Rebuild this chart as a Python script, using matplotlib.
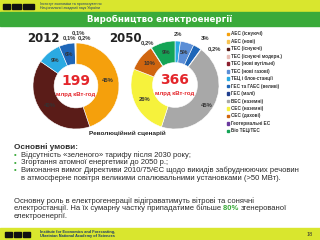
import matplotlib
matplotlib.use('Agg')
import numpy as np
import matplotlib.pyplot as plt
from matplotlib.patches import Rectangle

W, H = 320, 240
plt.rcParams['font.family'] = ['Liberation Sans', 'DejaVu Sans']

# legend categories and colours
names = ['АЕС (існуючі)', 'АЕС (нові)', 'ТЕС (існуючі)', 'ТЕС (існуючі модерн.)',
         'ТЕС (нові вугільні)', 'ТЕС (нові газові)', 'ТЕЦ і блок-станції',
         'ГЕС та ГАЕС (великі)', 'ГЕС (малі)', 'ВЕС (наземні)', 'СЕС (наземні)',
         'СЕС (дахові)', 'Геотермальні ЕС', 'Біо ТЕЦ/ТЕС']
cols = ['#F5A00C', '#F7C453', '#5A1C18', '#E8BDB6', '#8C2030', '#5B8ED6',
        '#2AAAE2', '#1E66B8', '#203F8F', '#A8A8A8', '#F6F23C', '#D0650F',
        '#6A3A9E', '#14A456']

# 2012 shares, clockwise from top
cat_2012 = ['АЕС (існуючі)', 'ТЕС (існуючі)', 'ТЕЦ і блок-станції',
            'ГЕС та ГАЕС (великі)', 'ГЕС (малі)', 'ВЕС (наземні)', 'СЕС (наземні)']
val_2012 = [45, 40, 9, 6, 0.1, 0.1, 0.2]
lab_2012 = ['45%', '40%', '9%', '6%', '0,1%', '0,1%', '0,2%']

# 2050 shares, clockwise from top
cat_2050 = ['ТЕЦ і блок-станції', 'ТЕС (нові газові)', 'ГЕС та ГАЕС (великі)',
            'ГЕС (малі)', 'ВЕС (наземні)', 'СЕС (наземні)',
            'СЕС (дахові)', 'Геотермальні ЕС', 'Біо ТЕЦ/ТЕС']
val_2050 = [2, 5, 3, 0.2, 45, 26, 10, 0.2, 9]
lab_2050 = ['2%', '5%', '3%', '0,2%', '45%', '26%', '10%', '0,2%', '9%']

totals = ['199', '366']
years = ['2012', '2050']

bullets = ['Відсутність «зеленого» тарифу після 2030 року;',
           'Згортання атомної енергетики до 2050 р.;',
           'Виконання вимог Директиви 2010/75/ЄС щодо викидів забруднюючих речовин']
bullet_cont = 'в атмосферне повітря великими спалювальними установками (>50 МВт).'


def fx(x):
    return x / W


def fy(y):
    return 1 - y / H


fig = plt.figure(figsize=(3.2, 2.4), dpi=100)
fig.patch.set_facecolor('white')

yellow = '#D9E62E'
green = '#3AAA3A'
fig.patches.append(Rectangle((0, fy(12.5)), 1, 12.5 / H, transform=fig.transFigure,
                             color=yellow, zorder=0))
fig.patches.append(Rectangle((0, fy(25.5)), 1, 13 / H, transform=fig.transFigure,
                             color=green, zorder=0))
fig.patches.append(Rectangle((0, 0), 1, 12 / H, transform=fig.transFigure,
                             color=yellow, zorder=0))

# logos
for x0, w in [(3, 7), (12, 9), (23, 11)]:
    fig.patches.append(Rectangle((fx(x0), fy(9)), w / W, 5 / H, transform=fig.transFigure,
                                 color='#111111', zorder=1))
fig.text(fx(40), fy(4.5), 'Інститут економіки та прогнозування', fontsize=2.6,
         color='#1A3A6A', va='center')
fig.text(fx(40), fy(8), 'Національної академії наук України', fontsize=2.6,
         color='#1A3A6A', va='center')
fig.text(0.5, fy(19), 'Виробництво електроенергії', fontsize=6.2, fontweight='bold',
         color='white', ha='center', va='center', family='DejaVu Sans')

for x0, w in [(5, 7), (14, 7), (23, 7)]:
    fig.patches.append(Rectangle((fx(x0), fy(237)), w / W, 5 / H, transform=fig.transFigure,
                                 color='#111111', zorder=1))
fig.text(fx(40), fy(231.5), 'Institute for Economics and Forecasting,', fontsize=2.8,
         color='#1A3A6A', va='center', fontweight='bold')
fig.text(fx(40), fy(235.5), 'Ukrainian National Academy of Sciences', fontsize=2.8,
         color='#1A3A6A', va='center', fontweight='bold')
fig.text(fx(310), fy(234), '18', fontsize=4, color='#333333', ha='center', va='center')

cmap = dict(zip(names, cols))


def donut(cx, cy, r, cats, vals, labs, lab_pos, total):
    ax = fig.add_axes([fx(cx - r), fy(cy + r), 2 * r / W, 2 * r / H])
    wedges, _ = ax.pie(vals, colors=[cmap[c] for c in cats], startangle=90,
                       counterclock=False, radius=1,
                       wedgeprops=dict(width=0.49, edgecolor='white', linewidth=0.4))
    ax.set_xlim(-1, 1)
    ax.set_ylim(-1, 1)
    for w, lab, pos in zip(wedges, labs, lab_pos):
        ang = np.deg2rad((w.theta1 + w.theta2) / 2)
        rr, dx, dy = pos
        ax.text(rr * np.cos(ang) + dx, rr * np.sin(ang) + dy, lab, fontsize=4.2,
                fontweight='bold', color='#333333', ha='center', va='center',
                clip_on=False)
    ax.text(0, 0.12, total, fontsize=10, fontweight='bold', color='#E4262B',
            ha='center', va='center', family='DejaVu Sans')
    ax.text(0, -0.2, 'млрд кВт·год', fontsize=4.3, fontweight='bold', color='#E4262B',
            ha='center', va='center')
    return ax


pos_2012 = [(0.76, 0, 0), (0.76, 0, 0), (0.76, 0, 0), (0.76, 0, 0),
            (1.12, -0.12, 0), (1.23, 0.07, 0), (1.12, 0.2, 0)]
pos_2050 = [(1.15, 0, 0), (0.76, 0, 0), (1.2, 0.08, 0.02), (1.3, 0.12, -0.22),
            (0.78, 0.02, -0.12), (0.76, 0, 0), (0.76, 0, 0), (1.12, -0.02, 0.02),
            (0.76, 0, 0)]

donut(76, 86, 43, cat_2012, val_2012, lab_2012, pos_2012, totals[0])
donut(175, 85, 44, cat_2050, val_2050, lab_2050, pos_2050, totals[1])

fig.text(fx(43), fy(38), years[0], fontsize=8.5, fontweight='bold', color='#222222',
         ha='center', va='center', family='DejaVu Sans')
fig.text(fx(125), fy(39), years[1], fontsize=8.5, fontweight='bold', color='#222222',
         ha='center', va='center', family='DejaVu Sans')
fig.text(fx(127), fy(133), 'Революційний сценарій', fontsize=4.6, fontweight='bold',
         color='#222222', ha='center', va='center')

# legend
for i, (n, c) in enumerate(zip(names, cols)):
    y = 34 + i * 7.45
    fig.patches.append(Rectangle((fx(226.5), fy(y + 1.3)), 2.6 / W, 2.6 / H,
                                 transform=fig.transFigure, color=c, zorder=2))
    fig.text(fx(231), fy(y), n, fontsize=3.3, fontweight='bold', color='#333333',
             va='center')

# conditions text
tc = '#2B2B2B'
fs = 5.5
fig.text(fx(14), fy(147), 'Основні умови:', fontsize=5.9, fontweight='bold', color=tc,
         va='center')
for i, b in enumerate(bullets):
    y = 155.5 + i * 7.5
    fig.text(fx(14), fy(y), '•', fontsize=5.5, color='#3AAA3A', va='center')
    fig.text(fx(21), fy(y), b, fontsize=fs, color=tc, va='center')
fig.text(fx(21), fy(178), bullet_cont, fontsize=fs, color=tc, va='center')

fig.text(fx(14), fy(201), 'Основну роль в електрогенерації відіграватимуть вітрові та сонячні',
         fontsize=fs, color=tc, va='center')
p2 = fig.text(fx(14), fy(208.5), 'електростанції. На їх сумарну частку припадатиме більше ',
              fontsize=fs, color=tc, va='center')
fig.text(fx(14), fy(216), 'електроенергії.', fontsize=fs, color=tc, va='center')

fig.canvas.draw()
bb = p2.get_window_extent()
p80 = fig.text(bb.x1 / W, fy(208.5), '80% ', fontsize=fs, color='#3AAA3A', va='center',
               fontweight='bold')
fig.canvas.draw()
bb = p80.get_window_extent()
fig.text(bb.x1 / W, fy(208.5), 'згенерованої', fontsize=fs, color=tc, va='center')

fig.savefig('out.png', dpi=100)
